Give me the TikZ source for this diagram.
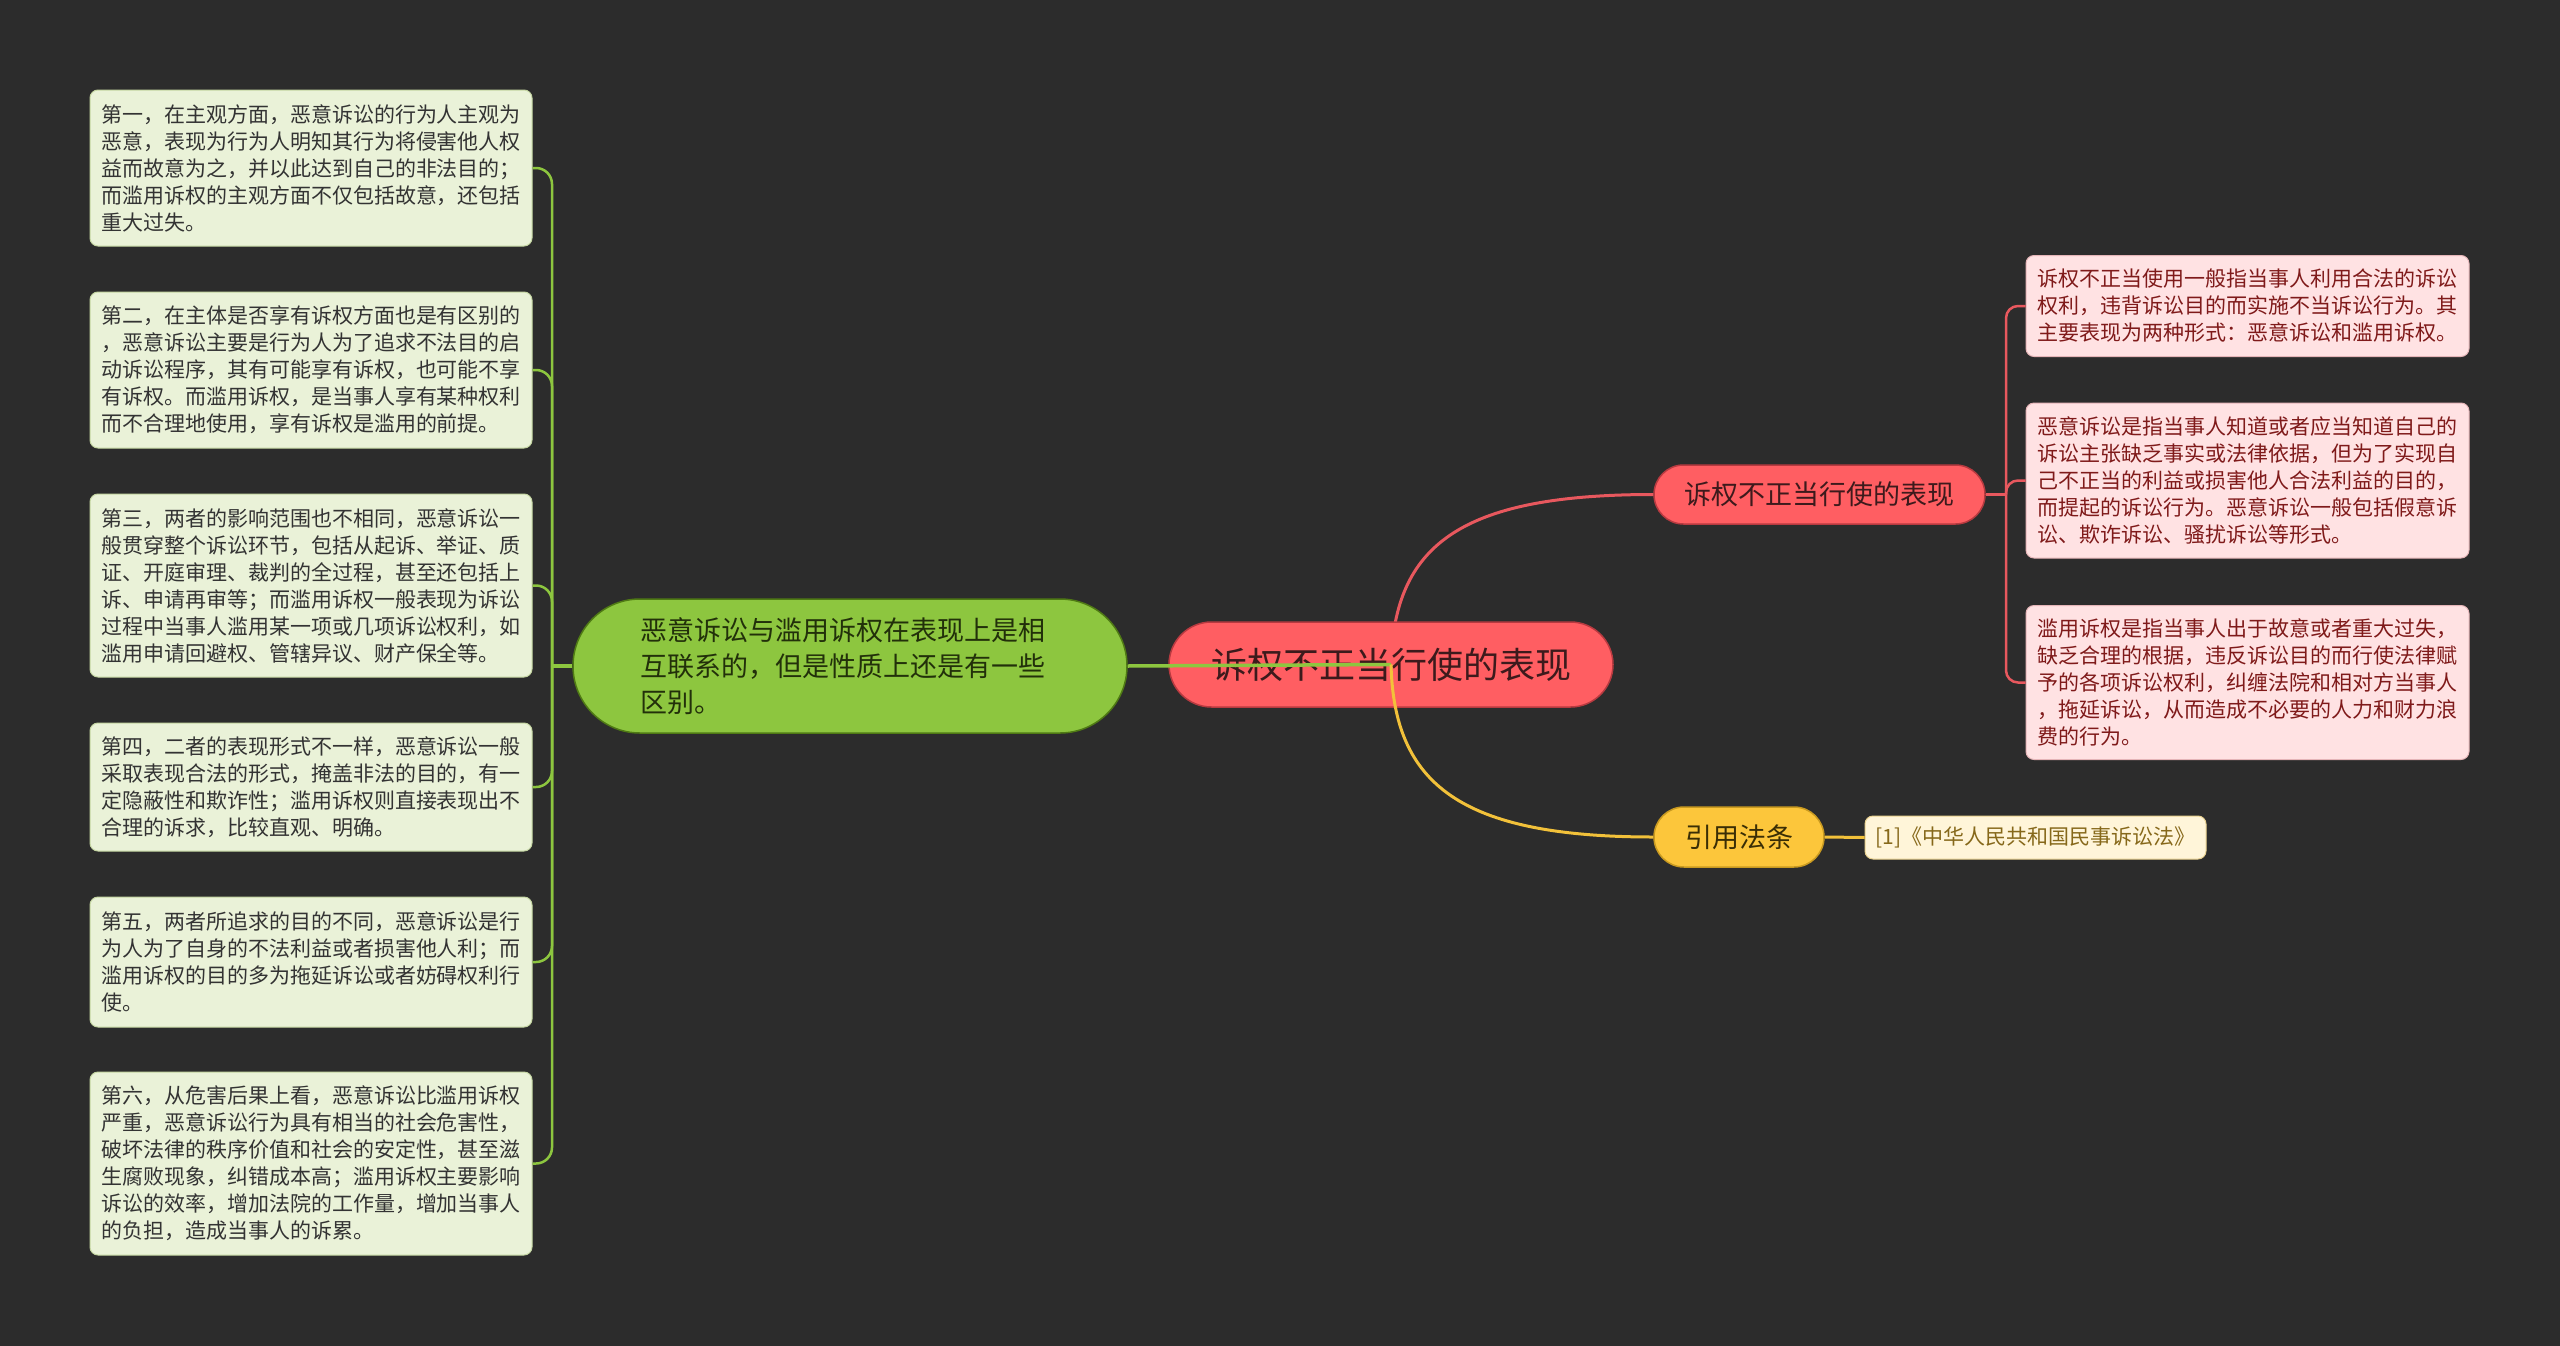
\documentclass[tikz,border=0pt]{standalone}
\usepackage{fontspec}
\newfontfamily\cjk{Noto Sans CJK SC}
\usetikzlibrary{shapes.misc}
\definecolor{bgc}{HTML}{2C2C2C}
\definecolor{gfill}{HTML}{8DC63F}
\definecolor{gborder}{HTML}{4F7A14}
\definecolor{gtext}{HTML}{22300A}
\definecolor{lfill}{HTML}{EAF2D8}
\definecolor{lborder}{HTML}{C5D6A2}
\definecolor{ltext}{HTML}{333333}
\definecolor{rootfill}{HTML}{FF5E62}
\definecolor{rootborder}{HTML}{B83A40}
\definecolor{roottext}{HTML}{3D1A1C}
\definecolor{rfill}{HTML}{FFE2E3}
\definecolor{rborder}{HTML}{E5B5B8}
\definecolor{rtext}{HTML}{7F1A1A}
\definecolor{rline}{HTML}{E8585E}
\definecolor{yfill}{HTML}{FCC63B}
\definecolor{yborder}{HTML}{C99A20}
\definecolor{ytext}{HTML}{3A2E05}
\definecolor{yline}{HTML}{F2C13A}
\definecolor{leaffill}{HTML}{FFF5D9}
\definecolor{leaftext}{HTML}{86681A}
\tikzset{
  lbox/.style={draw=lborder, line width=1pt, fill=lfill, rounded corners=8pt, inner sep=0pt,
    minimum width=442pt, text=ltext, align=left, font=\cjk\fontsize{21}{27}\selectfont},
  rbox/.style={draw=rborder, line width=1pt, fill=rfill, rounded corners=8pt, inner sep=0pt,
    minimum width=443pt, text=rtext, align=left, font=\cjk\fontsize{21}{27}\selectfont},
  rootnode/.style={rounded rectangle, draw=rootborder, line width=1.5pt, fill=rootfill, inner sep=0pt,
    minimum width=444pt, minimum height=85pt, text=roottext, font=\cjk\fontsize{36}{44}\selectfont},
  gnode/.style={rounded rectangle, draw=gborder, line width=1.5pt, fill=gfill, inner sep=0pt,
    minimum width=554pt, minimum height=134pt, text=gtext, text width=419pt, align=left, font=\cjk\fontsize{27}{36}\selectfont},
  brnode/.style={rounded rectangle, draw=rootborder, line width=1.5pt, fill=rootfill, inner sep=0pt,
    minimum width=331pt, minimum height=59pt, text=roottext, font=\cjk\fontsize{27}{33}\selectfont},
  ynode/.style={rounded rectangle, draw=yborder, line width=1.5pt, fill=yfill, inner sep=0pt,
    minimum width=170pt, minimum height=60pt, text=ytext, font=\cjk\fontsize{27}{33}\selectfont},
  leafnode/.style={draw=yborder!40!leaffill, line width=1pt, fill=leaffill, rounded corners=8pt, inner sep=0pt,
    minimum width=341pt, minimum height=43pt, text=leaftext, font=\cjk\fontsize{21}{27}\selectfont},
  gmain/.style={draw=gfill, line width=3.5pt},
  gthin/.style={draw=gfill, line width=2.5pt, rounded corners=16pt},
  redl/.style={draw=rline, line width=3pt},
  rthin/.style={draw=rline, line width=2.5pt, rounded corners=12pt},
  yell/.style={draw=yline, line width=3pt},
}
\begin{document}
\begin{tikzpicture}[x=1pt,y=-1pt]
\fill[bgc] (0,0) rectangle (2560,1346);
\useasboundingbox (0,0) rectangle (2560,1346);

% left boxes
\node[lbox, minimum height=156pt] (L1) at (311,168) {第一，在主观方面，恶意诉讼的行为人主观为\\恶意，表现为行为人明知其行为将侵害他人权\\益而故意为之，并以此达到自己的非法目的；\\而滥用诉权的主观方面不仅包括故意，还包括\\重大过失。};
\node[lbox, minimum height=156pt] (L2) at (311,370) {第二，在主体是否享有诉权方面也是有区别的\\，恶意诉讼主要是行为人为了追求不法目的启\\动诉讼程序，其有可能享有诉权，也可能不享\\有诉权。而滥用诉权，是当事人享有某种权利\\而不合理地使用，享有诉权是滥用的前提。};
\node[lbox, minimum height=183pt] (L3) at (311,585.5) {第三，两者的影响范围也不相同，恶意诉讼一\\般贯穿整个诉讼环节，包括从起诉、举证、质\\证、开庭审理、裁判的全过程，甚至还包括上\\诉、申请再审等；而滥用诉权一般表现为诉讼\\过程中当事人滥用某一项或几项诉讼权利，如\\滥用申请回避权、管辖异议、财产保全等。};
\node[lbox, minimum height=128pt] (L4) at (311,787) {第四，二者的表现形式不一样，恶意诉讼一般\\采取表现合法的形式，掩盖非法的目的，有一\\定隐蔽性和欺诈性；滥用诉权则直接表现出不\\合理的诉求，比较直观、明确。};
\node[lbox, minimum height=130pt] (L5) at (311,962) {第五，两者所追求的目的不同，恶意诉讼是行\\为人为了自身的不法利益或者损害他人利；而\\滥用诉权的目的多为拖延诉讼或者妨碍权利行\\使。};
\node[lbox, minimum height=183pt] (L6) at (311,1163.5) {第六，从危害后果上看，恶意诉讼比滥用诉权\\严重，恶意诉讼行为具有相当的社会危害性，\\破坏法律的秩序价值和社会的安定性，甚至滋\\生腐败现象，纠错成本高；滥用诉权主要影响\\诉讼的效率，增加法院的工作量，增加当事人\\的负担，造成当事人的诉累。};

% right boxes
\node[rbox, minimum height=101pt] (R1) at (2247.5,306) {诉权不正当使用一般指当事人利用合法的诉讼\\权利，违背诉讼目的而实施不当诉讼行为。其\\主要表现为两种形式：恶意诉讼和滥用诉权。};
\node[rbox, minimum height=155pt] (R2) at (2247.5,480.5) {恶意诉讼是指当事人知道或者应当知道自己的\\诉讼主张缺乏事实或法律依据，但为了实现自\\己不正当的利益或损害他人合法利益的目的，\\而提起的诉讼行为。恶意诉讼一般包括假意诉\\讼、欺诈诉讼、骚扰诉讼等形式。};
\node[rbox, minimum height=154pt] (R3) at (2247.5,682.5) {滥用诉权是指当事人出于故意或者重大过失，\\缺乏合理的根据，违反诉讼目的而行使法律赋\\予的各项诉讼权利，纠缠法院和相对方当事人\\，拖延诉讼，从而造成不必要的人力和财力浪\\费的行为。};

% main nodes
\node[gnode] (G) at (850,666) {恶意诉讼与滥用诉权在表现上是相\\互联系的，但是性质上还是有一些\\区别。};
\node[brnode] (B) at (1819.5,494.5) {诉权不正当行使的表现};
\node[ynode] (Y) at (1739,837) {引用法条};
\node[leafnode] (LF) at (2035.5,837.5) {[1]《中华人民共和国民事诉讼法》};
\coordinate (rc) at (1391,664.5);

% red curve behind root
\draw[redl] (rc) .. controls (1394,545) and (1460,494.5) .. (B.west);
\node[rootnode] (root) at (rc) {诉权不正当行使的表现};
\coordinate (rcen) at (root.center);
% green and yellow over root
\draw[gmain] (rcen) -- (G.east);
\draw[yell] (rcen) .. controls (1394,784) and (1460,837) .. (Y.west);
\draw[yell] (Y.east) -- (LF.west);

% green spine
\coordinate (gs) at (552,666);
\draw[gmain] (G.west) -- (gs);
\foreach \t in {L1,L2,L3,L4,L5,L6} {
  \draw[gthin] (gs) |- (\t.east);
}

% red spine
\coordinate (rs) at (2006,494.5);
\draw[redl] (B.east) -- (rs);
\foreach \t in {R1,R2,R3} {
  \draw[rthin] (rs) |- (\t.west);
}
\end{tikzpicture}
\end{document}
